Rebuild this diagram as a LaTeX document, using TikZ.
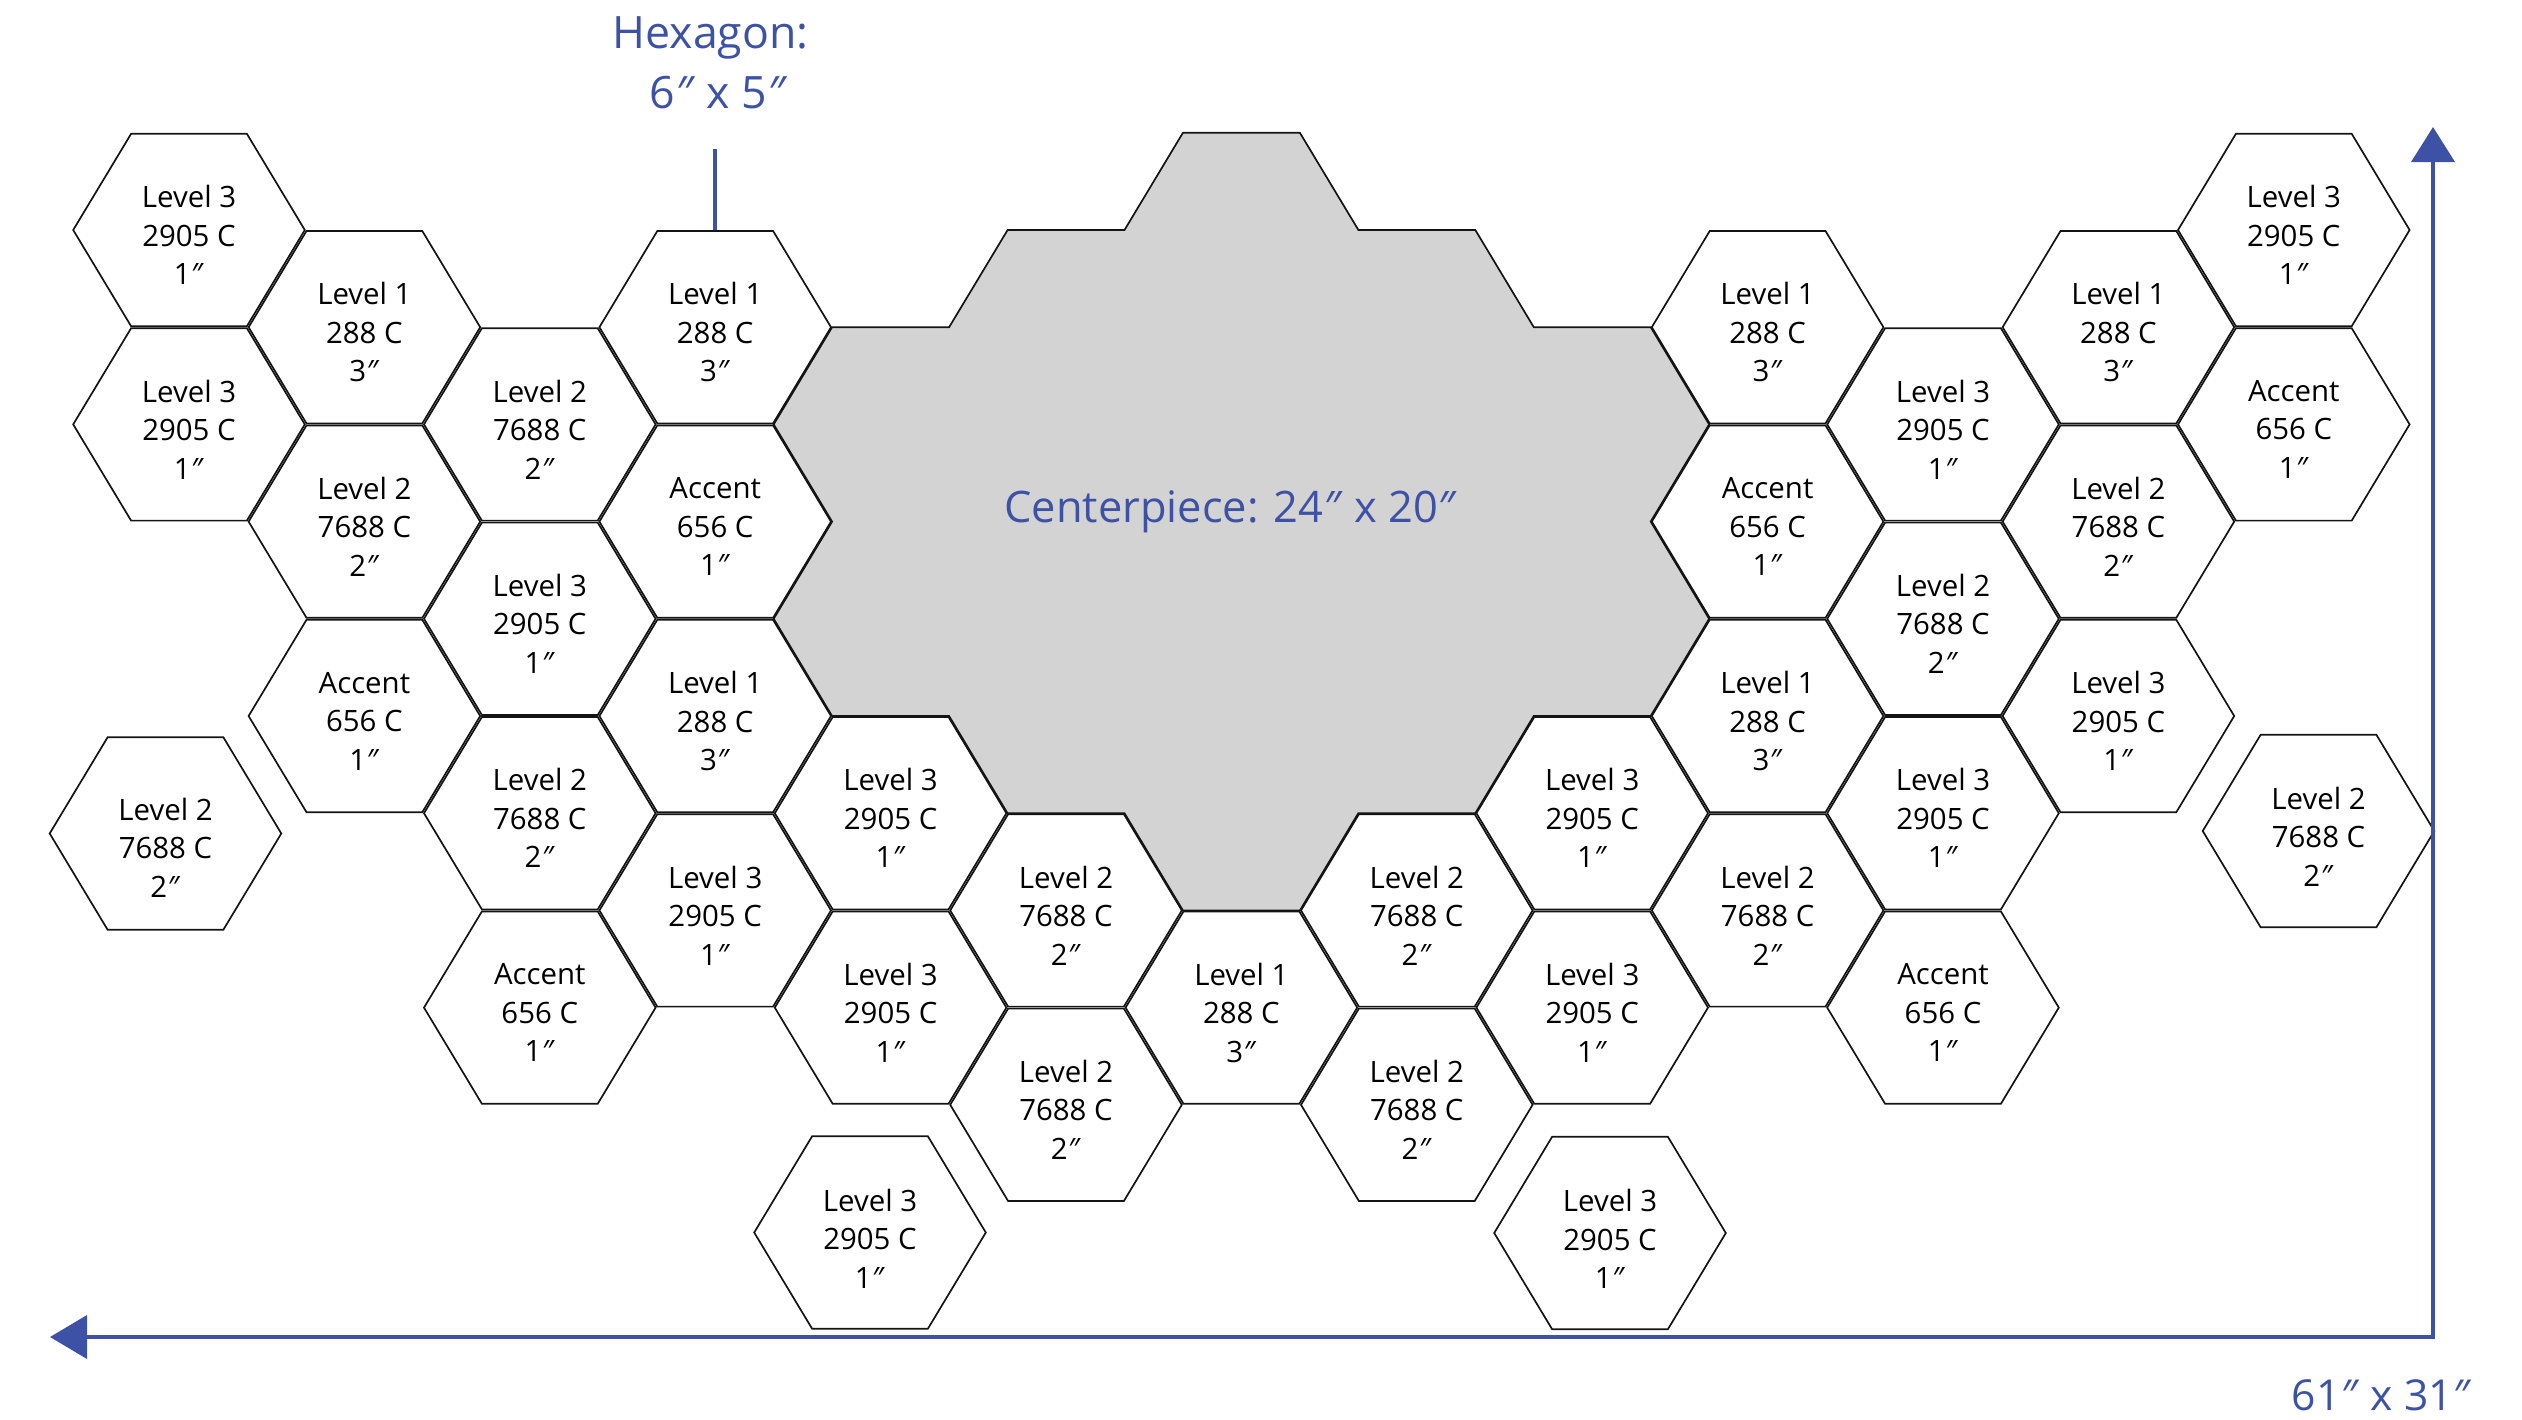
\documentclass[tikz,border=0pt]{standalone}
\usepackage{fontspec}
\setmainfont{Open Sans}
\usetikzlibrary{arrows.meta}
\definecolor{dimblue}{RGB}{62,82,165}
\definecolor{cpgray}{RGB}{211,211,211}
\definecolor{hexline}{RGB}{20,20,20}
\newcommand\dprm{\textit{″}}
\newcommand\hexhw{115.8}
\newcommand\hexhh{96.2}
\newcommand\hexabs[5]{%
  \draw[hexedge] ({#2-\hexhw},{#3}) -- ({#2-\hexhw/2},{#3-\hexhh}) -- ({#2+\hexhw/2},{#3-\hexhh}) -- ({#2+\hexhw},{#3}) -- ({#2+\hexhw/2},{#3+\hexhh}) -- ({#2-\hexhw/2},{#3+\hexhh}) -- cycle;
  \node[hextext] (#1) at ({#2},{#3+#5}) {#4};}
\newcommand\hexg[4]{%
  \pgfmathsetmacro\hgx{189+175.4*#2}%
  \pgfmathsetmacro\hgy{230+97.2*#3}%
  \hexabs{#1}{\hgx}{\hgy}{#4}{5}}
\begin{document}
\begin{tikzpicture}[x=0.5pt,y=-0.5pt,
  hexedge/.style={draw=hexline,line width=0.85pt,line join=miter},
  hextext/.style={align=center,inner sep=0pt,font=\fontsize{14.7}{19.25}\selectfont,text=black},
  bluetext/.style={text=dimblue,inner sep=0pt,font=\fontsize{22.3}{27}\selectfont},
  centerpiece/.style={fill=cpgray,draw=hexline,line width=0.85pt,line join=miter},
  dimline/.style={draw=dimblue,line width=2pt,line join=miter}]
\useasboundingbox (0,0) rectangle (2522,1419);
% centerpiece
\draw[centerpiece] (1182.9,132.8) -- (1299.9,132.8) -- (1358.4,230) -- (1475.3,230) -- (1533.8,327.2) -- (1650.7,327.2)
 -- (1709.1,424.4) -- (1650.7,521.6) -- (1709.1,618.8) -- (1650.7,716) -- (1533.7,716) -- (1475.3,813.2)
 -- (1358.3,813.2) -- (1299.9,910.4) -- (1182.9,910.4) -- (1124.5,813.2) -- (1007.5,813.2) -- (949.1,716)
 -- (832.1,716) -- (773.7,618.8) -- (832.1,521.6) -- (773.7,424.4) -- (832.1,327.2) -- (949.1,327.2)
 -- (1007.6,230) -- (1124.5,230) -- cycle;
\node[bluetext,anchor=base,font=\fontsize{21.7}{26}\selectfont] (cplabel) at (1231,522) {Centerpiece: 24\dprm\ x 20\dprm};
% hexagons on the grid
\hexg{h00}{0}{0}{Level 3\\2905 C\\1\dprm}
\hexg{h02}{0}{2}{Level 3\\2905 C\\1\dprm}
\hexg{h11}{1}{1}{Level 1\\288 C\\3\dprm}
\hexg{h13}{1}{3}{Level 2\\7688 C\\2\dprm}
\hexg{h15}{1}{5}{Accent\\656 C\\1\dprm}
\hexg{h22}{2}{2}{Level 2\\7688 C\\2\dprm}
\hexg{h24}{2}{4}{Level 3\\2905 C\\1\dprm}
\hexg{h26}{2}{6}{Level 2\\7688 C\\2\dprm}
\hexg{h28}{2}{8}{Accent\\656 C\\1\dprm}
\hexg{h31}{3}{1}{Level 1\\288 C\\3\dprm}
\hexg{h33}{3}{3}{Accent\\656 C\\1\dprm}
\hexg{h35}{3}{5}{Level 1\\288 C\\3\dprm}
\hexg{h37}{3}{7}{Level 3\\2905 C\\1\dprm}
\hexg{h46}{4}{6}{Level 3\\2905 C\\1\dprm}
\hexg{h48}{4}{8}{Level 3\\2905 C\\1\dprm}
\hexg{h57}{5}{7}{Level 2\\7688 C\\2\dprm}
\hexg{h59}{5}{9}{Level 2\\7688 C\\2\dprm}
\hexg{h68}{6}{8}{Level 1\\288 C\\3\dprm}
\hexg{h77}{7}{7}{Level 2\\7688 C\\2\dprm}
\hexg{h79}{7}{9}{Level 2\\7688 C\\2\dprm}
\hexg{h86}{8}{6}{Level 3\\2905 C\\1\dprm}
\hexg{h88}{8}{8}{Level 3\\2905 C\\1\dprm}
\hexg{h91}{9}{1}{Level 1\\288 C\\3\dprm}
\hexg{h93}{9}{3}{Accent\\656 C\\1\dprm}
\hexg{h95}{9}{5}{Level 1\\288 C\\3\dprm}
\hexg{h97}{9}{7}{Level 2\\7688 C\\2\dprm}
\hexg{hA2}{10}{2}{Level 3\\2905 C\\1\dprm}
\hexg{hA4}{10}{4}{Level 2\\7688 C\\2\dprm}
\hexg{hA6}{10}{6}{Level 3\\2905 C\\1\dprm}
\hexg{hA8}{10}{8}{Accent\\656 C\\1\dprm}
\hexg{hB1}{11}{1}{Level 1\\288 C\\3\dprm}
\hexg{hB3}{11}{3}{Level 2\\7688 C\\2\dprm}
\hexg{hB5}{11}{5}{Level 3\\2905 C\\1\dprm}
\hexg{hC0}{12}{0}{Level 3\\2905 C\\1\dprm}
\hexg{hC2}{12}{2}{Accent\\656 C\\1\dprm}
% standalone hexagons
\hexabs{s1}{165.5}{833.5}{Level 2\\7688 C\\2\dprm}{14}
\hexabs{s2}{870}{1232.5}{Level 3\\2905 C\\1\dprm}{6}
\hexabs{s3}{1610}{1233}{Level 3\\2905 C\\1\dprm}{6}
\hexabs{s4}{2318.5}{831}{Level 2\\7688 C\\2\dprm}{5.5}
% hexagon size label
\node[bluetext,anchor=base] (hexlab1) at (710.5,48) {Hexagon:};
\node[bluetext,anchor=base] (hexlab2) at (718.5,108) {6\dprm\ x 5\dprm};
\coordinate (ticktop) at (715.2,149);
\coordinate (tickbot) at (715.2,230);
\draw[dimline,line width=1.75pt] (ticktop) -- (tickbot);
% overall dimension arrows
\coordinate (leftend) at (50,1337);
\coordinate (corner) at (2433,1337);
\coordinate (topend) at (2433,127);
\draw[dimline,{Triangle[length=18.5pt,width=21.5pt]}-{Triangle[length=17.5pt,width=21.5pt]}] (leftend) -- (corner) -- (topend);
\node[bluetext,anchor=base,font=\fontsize{21.3}{26}\selectfont] (sizelab) at (2382,1410) {61\dprm\ x 31\dprm};
\end{tikzpicture}
\end{document}
